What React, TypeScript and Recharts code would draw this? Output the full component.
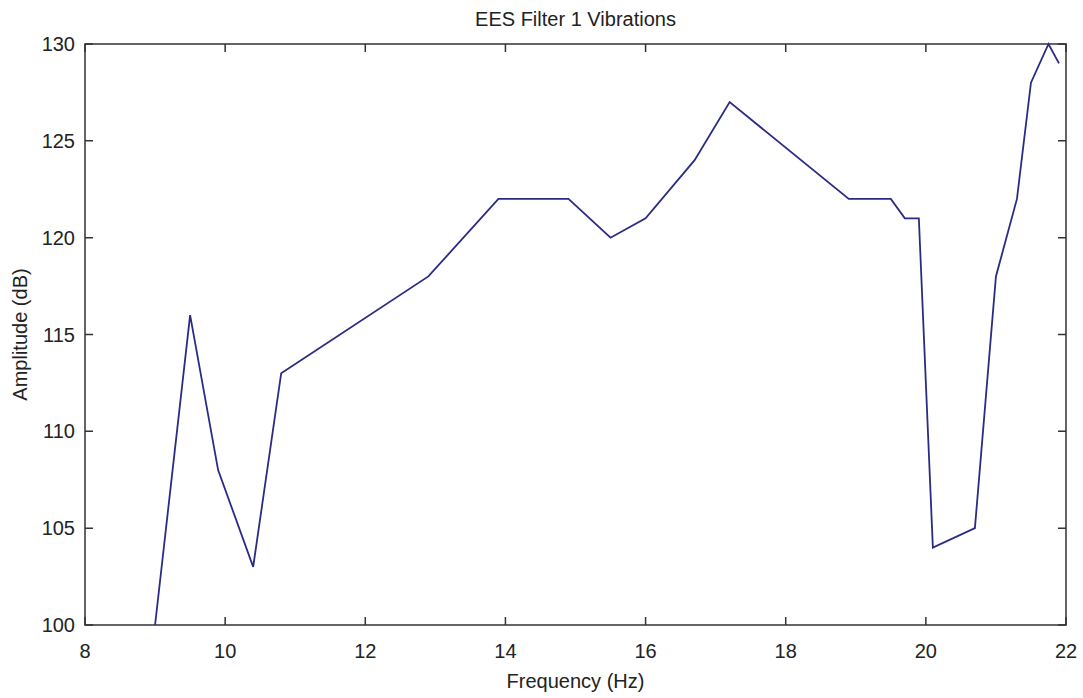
import { LineChart, Line, XAxis, YAxis, Label, ReferenceArea } from "recharts"

const frequency = [9.0, 9.5, 9.9, 10.4, 10.8, 12.9, 13.9, 14.9, 15.5, 16.0, 16.7, 17.2, 18.9, 19.5, 19.7, 19.9, 20.1, 20.7, 21.0, 21.3, 21.5, 21.75, 21.9]
const amplitude = [100, 116, 108, 103, 113, 118, 122, 122, 120, 121, 124, 127, 122, 122, 121, 121, 104, 105, 118, 122, 128, 130, 129]
const xTicks = [8, 10, 12, 14, 16, 18, 20, 22]
const yTicks = [100, 105, 110, 115, 120, 125, 130]

const data = frequency.map((f, i) => ({ f, amp: amplitude[i] }))

const FONT = "'Liberation Sans', Arial, sans-serif"
const TEXT = "#222"
const AXIS = "#333"
const TICK_LEN = 8

// plot box size (layout)
const PLOT_LEFT = 85
const PLOT_TOP = 44
const PLOT_W = 981
const PLOT_H = 581

// left tick draws the mirrored right-hand tick as well, MATLAB style
const LeftTick = ({ x, y, payload }: any) => (
    <g>
        <path d={`M${x},${y}h${TICK_LEN}M${x + PLOT_W},${y}h${-TICK_LEN}`} stroke={AXIS} strokeWidth={1.5} fill="none" />
        <text x={x - 10} y={y + 7} textAnchor="end" fontFamily={FONT} fontSize={20} fill={TEXT}>
            {payload.value}
        </text>
    </g>
)

const BottomTick = ({ x, y, payload }: any) => (
    <g>
        <path d={`M${x},${y}v${-TICK_LEN}M${x},${y - PLOT_H}v${TICK_LEN}`} stroke={AXIS} strokeWidth={1.5} fill="none" />
        <text x={x} y={y + 33} textAnchor="middle" fontFamily={FONT} fontSize={20} fill={TEXT}>
            {payload.value}
        </text>
    </g>
)

export default function App() {
    return (
        <div style={{ position: "absolute", left: 0, top: 0, width: 1083, height: 698, background: "#fff" }}>
            <div
                style={{
                    position: "absolute",
                    left: PLOT_LEFT,
                    width: PLOT_W,
                    top: 8,
                    textAlign: "center",
                    fontFamily: FONT,
                    fontSize: 20,
                    lineHeight: "23px",
                    color: TEXT,
                }}
            >
                EES Filter 1 Vibrations
            </div>
            <LineChart width={1083} height={698} data={data} margin={{ top: PLOT_TOP, right: 17, left: 0, bottom: 0 }}>
                <ReferenceArea
                    x1={8}
                    x2={22}
                    y1={100}
                    y2={130}
                    fill="none"
                    fillOpacity={0}
                    stroke={AXIS}
                    strokeWidth={1.5}
                    ifOverflow="visible"
                />
                <XAxis
                    dataKey="f"
                    type="number"
                    domain={[8, 22]}
                    ticks={xTicks}
                    height={73}
                    tickSize={0}
                    tickMargin={0}
                    tick={<BottomTick />}
                    axisLine={false}
                    tickLine={false}
                >
                    <Label
                        content={({ viewBox }: any) => (
                            <text x={viewBox.x + viewBox.width / 2} y={688} textAnchor="middle" fontFamily={FONT} fontSize={20} fill={TEXT}>
                                Frequency (Hz)
                            </text>
                        )}
                    />
                </XAxis>
                <YAxis
                    type="number"
                    domain={[100, 130]}
                    ticks={yTicks}
                    width={PLOT_LEFT}
                    tickSize={0}
                    tickMargin={0}
                    tick={<LeftTick />}
                    axisLine={false}
                    tickLine={false}
                >
                    <Label
                        content={({ viewBox }: any) => {
                            const cy = viewBox.y + viewBox.height / 2
                            return (
                                <text
                                    x={20}
                                    y={cy}
                                    transform={`rotate(-90 20 ${cy})`}
                                    textAnchor="middle"
                                    dominantBaseline="central"
                                    fontFamily={FONT}
                                    fontSize={20}
                                    fill={TEXT}
                                >
                                    Amplitude (dB)
                                </text>
                            )
                        }}
                    />
                </YAxis>
                <Line type="linear" dataKey="amp" stroke="#2b2b86" strokeWidth={1.8} dot={false} isAnimationActive={false} />
            </LineChart>
        </div>
    )
}
